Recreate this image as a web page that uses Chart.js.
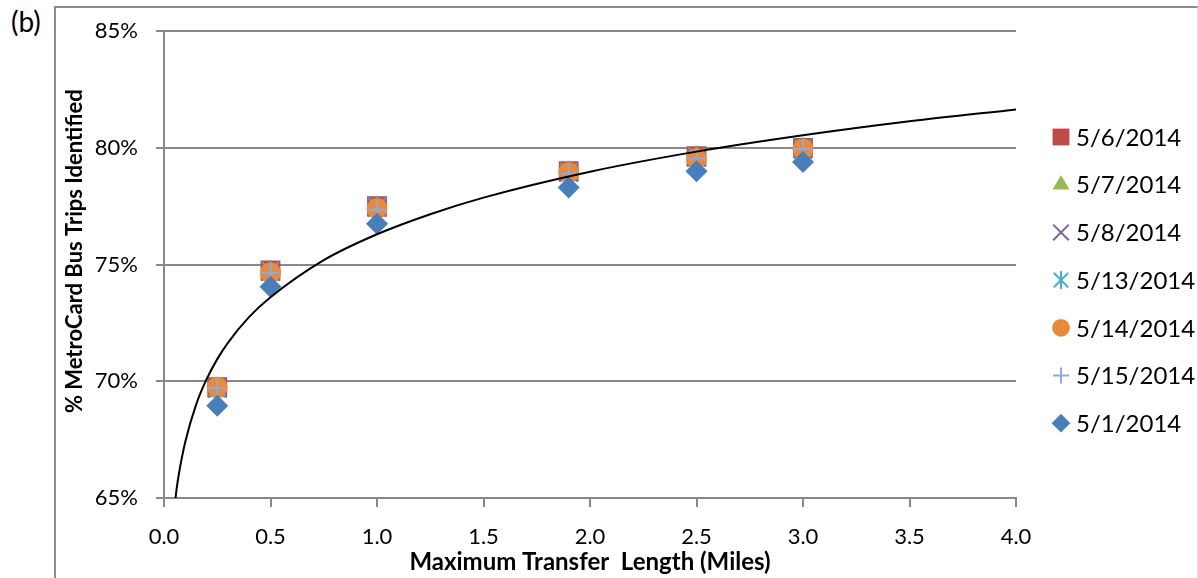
<!DOCTYPE html>
<html>
<head>
<meta charset="utf-8">
<script src="https://cdn.jsdelivr.net/npm/chart.js@4.4.1/dist/chart.umd.min.js"></script>
<style>
  html, body { margin: 0; padding: 0; background: #fff; }
  #wrap { position: relative; width: 1198px; height: 578px; overflow: hidden; font-family: Lato, sans-serif; }
  #frame { position: absolute; left: 54px; top: 6px; width: 1141px; height: 600px;
           border-top: 2px solid #8c8c8c; border-left: 2px solid #8c8c8c; border-right: 1px solid #d9d9d9; }
  #tag { position: absolute; left: 11px; top: 4px; font-size: 28px; color: #000; }
  canvas { position: absolute; left: 0; top: 0; }
</style>
</head>
<body>
<div id="wrap">
  <div id="frame"></div>
  <div id="tag">(b)</div>
  <canvas id="c" width="1198" height="578"></canvas>
</div>
<script>
// ── data ─────────────────────────────────────────────────────
const xMiles = [0.25, 0.5, 1.0, 1.9, 2.5, 3.0];

const d0506 = [69.75, 74.75, 77.50, 79.00, 79.65, 80.00];
const d0507 = [69.55, 74.55, 77.30, 78.90, 79.45, 79.85];
const d0508 = [69.70, 74.70, 77.45, 78.95, 79.60, 79.95];
const d0513 = [69.70, 74.75, 77.50, 79.00, 79.65, 80.00];
const d0514 = [69.75, 74.65, 77.40, 78.95, 79.55, 79.95];
const d0515 = [69.70, 74.65, 77.35, 78.90, 79.55, 79.95];
const d0501 = [68.95, 74.05, 76.75, 78.30, 79.00, 79.40];

// trend curve
const trendX = [0.054, 0.06, 0.07, 0.1, 0.15, 0.2, 0.25, 0.3, 0.4, 0.5, 0.75, 1.0, 1.25, 1.5, 2.0, 2.5, 3.0, 3.5, 4.0];
const trendY = [65.00, 65.44, 66.04, 67.41, 68.98, 70.09, 70.95, 71.65, 72.76, 73.60, 75.19, 76.30, 77.16, 77.87, 78.98, 79.84, 80.54, 81.14, 81.65];

const xTicks = [0, 0.5, 1.0, 1.5, 2.0, 2.5, 3.0, 3.5, 4.0];
const yTicks = [65, 70, 75, 80, 85];

const seriesNames = ['5/6/2014', '5/7/2014', '5/8/2014', '5/13/2014', '5/14/2014', '5/15/2014', '5/1/2014'];
// ─────────────────────────────────────────────────────────────

// Excel-style asterisk: an X with a vertical stroke
function asterisk(size, color) {
  const cv = document.createElement('canvas');
  cv.width = cv.height = size;
  const g = cv.getContext('2d');
  const m = size / 2, a = size * 0.36;
  g.strokeStyle = color; g.lineWidth = 2;
  g.beginPath();
  g.moveTo(m - a, m - a); g.lineTo(m + a, m + a);
  g.moveTo(m + a, m - a); g.lineTo(m - a, m + a);
  g.moveTo(m, 1); g.lineTo(m, size - 1);
  g.stroke();
  return cv;
}

const styles = [
  { color: '#BE4B48', pointStyle: 'rect',     radius: 14,   bw: 0, order: 6 },
  { color: '#98B954', pointStyle: 'triangle', radius: 11.5, bw: 0, order: 5 },
  { color: '#7D60A0', pointStyle: 'crossRot', radius: 13,   bw: 2, order: 4 },
  { color: '#4BACC6', pointStyle: asterisk(23, '#4BACC6'), legendStyle: asterisk(20, '#4BACC6'), radius: 10, bw: 2, order: 3 },
  { color: '#E8893C', pointStyle: 'circle',   radius: 10.5, bw: 0, order: 2 },
  { color: '#8DAADB', pointStyle: 'cross',    radius: 9.5,  bw: 2, order: 1 },
  { color: '#4A7EBB', pointStyle: 'rectRot',  radius: 11,   bw: 0, order: 0 },
];
const seriesData = [d0506, d0507, d0508, d0513, d0514, d0515, d0501];

const datasets = seriesData.map((vals, i) => ({
  type: 'scatter',
  label: seriesNames[i],
  data: vals.map((v, k) => ({ x: xMiles[k], y: v })),
  pointStyle: styles[i].pointStyle,
  pointRadius: styles[i].radius,
  pointHoverRadius: styles[i].radius,
  pointBackgroundColor: styles[i].color,
  pointBorderColor: styles[i].color,
  pointBorderWidth: styles[i].bw,
  order: styles[i].order,
}));

datasets.push({
  type: 'line',
  label: 'trend',
  data: trendX.map((x, k) => ({ x, y: trendY[k] })),
  borderColor: '#000',
  borderWidth: 2,
  pointRadius: 0,
  fill: false,
  cubicInterpolationMode: 'monotone',
  order: -1,
});

const legendPlugin = {
  id: 'sideLegend',
  afterDraw(chart) {
    const ctx = chart.ctx;
    const x0 = 1061, tx = 1076, y0 = 137, step = 47.7;
    ctx.save();
    seriesNames.forEach((name, i) => {
      const s = styles[i];
      const y = y0 + i * step;
      ctx.fillStyle = s.color;
      ctx.strokeStyle = s.color;
      ctx.lineWidth = s.bw;
      Chart.helpers.drawPoint(ctx, {
        pointStyle: s.legendStyle || s.pointStyle,
        radius: s.radius * 0.85,
        rotation: 0,
        borderWidth: s.bw,
      }, x0, y);
      ctx.fillStyle = '#000';
      ctx.font = '24px Lato';
      ctx.textBaseline = 'middle';
      ctx.textAlign = 'left';
      ctx.fillText(name, tx, y + 1);
    });
    ctx.restore();
  }
};

const gridGray = '#888888';

new Chart(document.getElementById('c'), {
  data: { datasets },
  options: {
    responsive: false,
    animation: false,
    layout: { padding: { left: 56, top: 25, right: 182, bottom: 0 } },
    plugins: { legend: { display: false }, tooltip: { enabled: false } },
    scales: {
      x: {
        type: 'linear',
        min: 0, max: 4,
        afterBuildTicks: s => { s.ticks = xTicks.map(v => ({ value: v })); },
        afterFit: s => { s.height = 80; },
        ticks: { color: '#000', font: { family: 'Lato', size: 22 }, padding: 17,
                 callback: v => Number(v).toFixed(1), maxRotation: 0, autoSkip: false },
        grid: { drawOnChartArea: false, drawTicks: true, tickLength: 9, color: gridGray, lineWidth: 2 },
        border: { color: gridGray, width: 2 },
        title: { display: true, text: 'Maximum Transfer  Length (Miles)', color: '#000',
                 font: { family: 'Lato', size: 24, weight: 'bold' }, padding: { top: 0, bottom: 1 } },
      },
      y: {
        type: 'linear',
        min: 65, max: 85,
        afterBuildTicks: s => { s.ticks = yTicks.map(v => ({ value: v })); },
        afterFit: s => { s.width = 108; },
        ticks: { color: '#000', font: { family: 'Lato', size: 22 }, padding: 18,
                 callback: v => v + '%' },
        grid: { drawTicks: true, tickLength: 8, color: gridGray, lineWidth: 2 },
        border: { color: gridGray, width: 2 },
        // leading spaces nudge the title up a little, as in the original
        title: { display: true, text: '     % MetroCard Bus Trips Identified', color: '#000',
                 font: { family: 'Lato', size: 22, weight: 'bold' }, padding: { top: 6, bottom: 0 } },
      },
    },
  },
  plugins: [legendPlugin],
});
</script>
</body>
</html>
